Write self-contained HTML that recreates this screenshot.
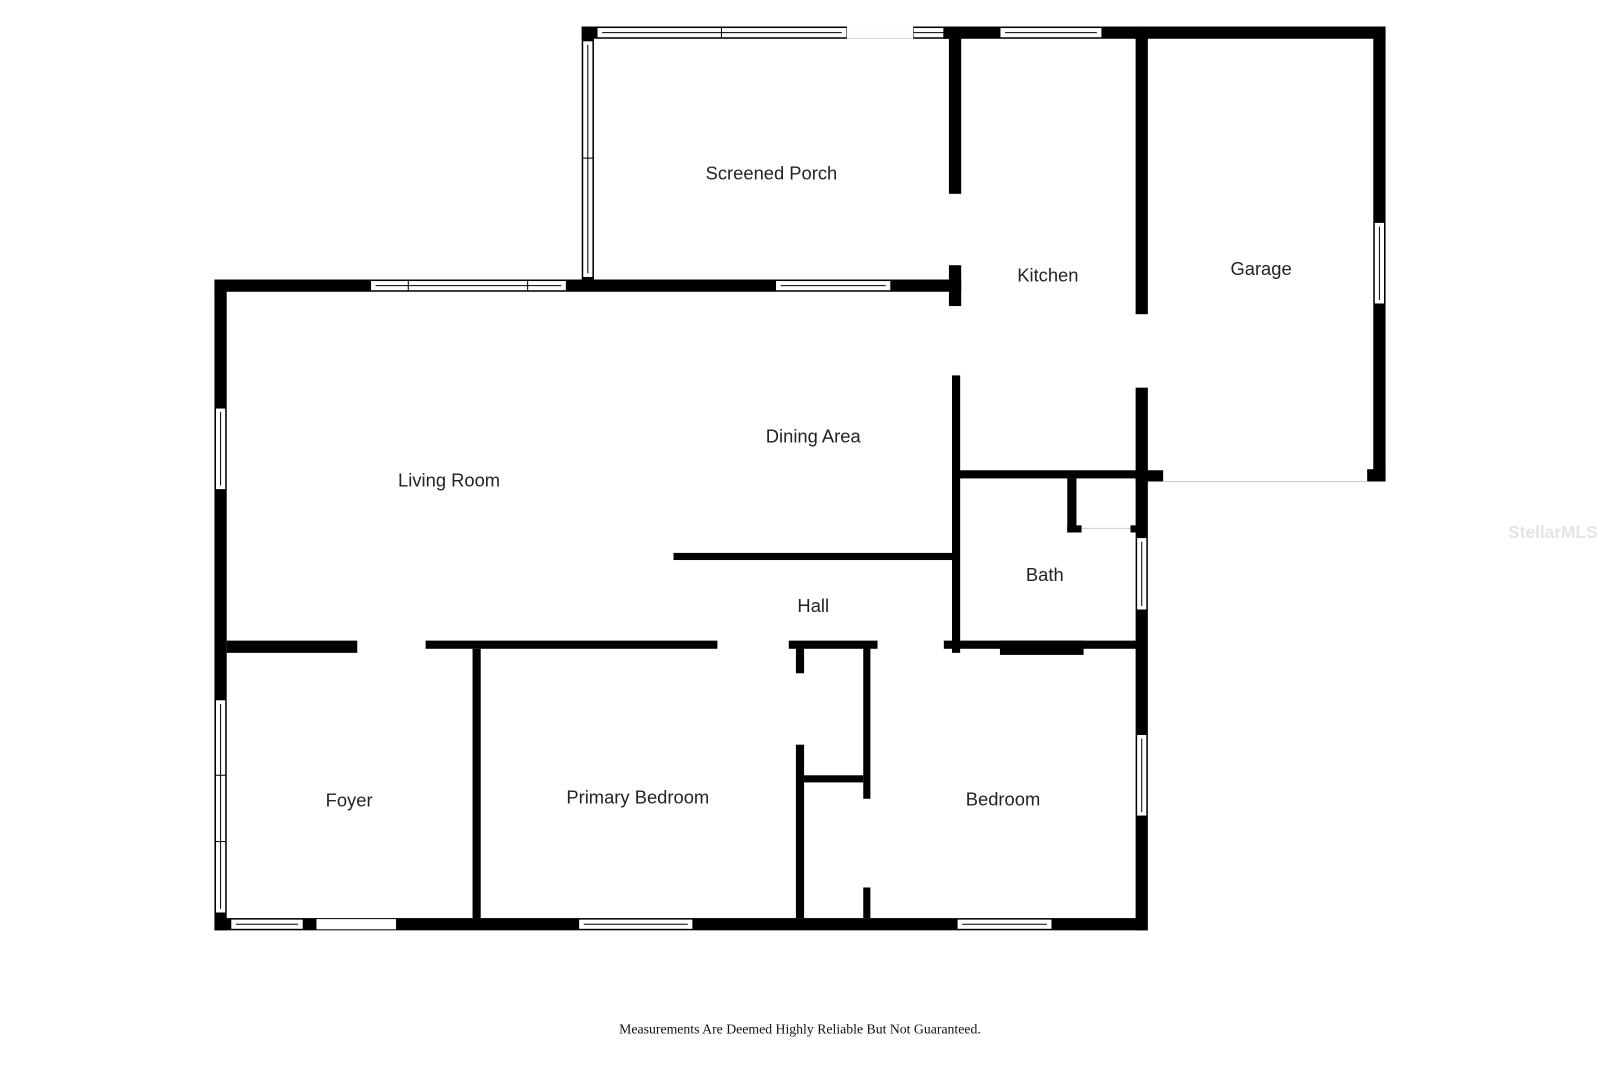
<!DOCTYPE html>
<html><head><meta charset="utf-8"><style>html,body{margin:0;padding:0;background:#fff}svg{display:block}</style></head>
<body>
<svg width="1600" height="1066" viewBox="0 0 1568 1045" xmlns="http://www.w3.org/2000/svg" font-family="Liberation Sans, sans-serif">
<rect width="1568" height="1045" fill="#fff"/>
<g fill="#000">
<rect x="570" y="26" width="370" height="12"/>
<rect x="570" y="26" width="12" height="252"/>
<rect x="925" y="26" width="433" height="12"/>
<rect x="1346" y="26" width="12" height="446"/>
<rect x="1340" y="460" width="18" height="12"/>
<rect x="1113" y="26" width="12" height="282"/>
<rect x="1113" y="380" width="12" height="532"/>
<rect x="1113" y="461" width="27" height="11"/>
<rect x="930" y="26" width="12" height="164"/>
<rect x="930" y="260" width="12" height="40"/>
<rect x="933" y="368" width="8" height="272"/>
<rect x="210" y="274" width="732" height="12"/>
<rect x="210" y="274" width="12" height="638"/>
<rect x="210" y="900" width="914" height="12"/>
<rect x="940" y="461" width="175" height="8"/>
<rect x="1046" y="469" width="9" height="53"/>
<rect x="1046" y="515" width="14" height="7"/>
<rect x="1108" y="515" width="7" height="7"/>
<rect x="660" y="542" width="275" height="7"/>
<rect x="925" y="628" width="190" height="8"/>
<rect x="980" y="628" width="82" height="14"/>
<rect x="222" y="628" width="128" height="12"/>
<rect x="417" y="628" width="286" height="8"/>
<rect x="773" y="628" width="87" height="8"/>
<rect x="463" y="636" width="8" height="264"/>
<rect x="780" y="632" width="8" height="28"/>
<rect x="780" y="730" width="8" height="170"/>
<rect x="846" y="632" width="7" height="151"/>
<rect x="846" y="870" width="7" height="30"/>
<rect x="787" y="760" width="59" height="7"/>
</g>
<g fill="#fff" stroke="#000" stroke-width="1">
<rect x="585" y="27" width="245" height="10"/><line x1="707" y1="27" x2="707" y2="37"/><line x1="590" y1="32" x2="825" y2="32"/>
<rect x="895" y="27" width="30" height="10"/><line x1="895" y1="32" x2="925" y2="32"/>
<rect x="571" y="40" width="10" height="232"/><line x1="571" y1="155" x2="581" y2="155"/><line x1="576" y1="44" x2="576" y2="268"/>
<rect x="980" y="27" width="100" height="10"/><line x1="985" y1="32" x2="1075" y2="32"/>
<rect x="1347" y="218" width="10" height="80"/><line x1="1352" y1="222" x2="1352" y2="294"/>
<rect x="363" y="275" width="192" height="10"/><line x1="400" y1="275" x2="400" y2="285"/><line x1="517" y1="275" x2="517" y2="285"/><line x1="368" y1="280" x2="550" y2="280"/>
<rect x="760" y="275" width="113" height="10"/><line x1="765" y1="280" x2="868" y2="280"/>
<rect x="211" y="400" width="10" height="80"/><line x1="216" y1="404" x2="216" y2="476"/>
<rect x="211" y="686" width="10" height="209"/><line x1="211" y1="760" x2="221" y2="760"/><line x1="211" y1="825" x2="221" y2="825"/><line x1="216" y1="690" x2="216" y2="891"/>
<rect x="226" y="901" width="71" height="10"/><line x1="231" y1="906" x2="292" y2="906"/>
<rect x="567" y="901" width="112" height="10"/><line x1="572" y1="906" x2="674" y2="906"/>
<rect x="938" y="901" width="93" height="10"/><line x1="943" y1="906" x2="1026" y2="906"/>
<rect x="1114" y="527" width="10" height="71"/><line x1="1119" y1="531" x2="1119" y2="594"/>
<rect x="1114" y="720" width="10" height="80"/><line x1="1119" y1="724" x2="1119" y2="796"/>
</g>
<g fill="#fff"><rect x="310" y="901" width="78" height="10"/><rect x="830" y="26" width="65" height="12"/></g>
<g stroke="#ccc" stroke-width="1"><line x1="1140" y1="472" x2="1340" y2="472"/><line x1="1060" y1="518" x2="1108" y2="518"/></g>
<g font-size="18" fill="#222" text-anchor="middle" dominant-baseline="middle">
<text x="756" y="171">Screened Porch</text>
<text x="1027" y="271">Kitchen</text>
<text x="1236" y="265">Garage</text>
<text x="797" y="429">Dining Area</text>
<text x="440" y="472">Living Room</text>
<text x="1024" y="565">Bath</text>
<text x="797" y="595">Hall</text>
<text x="342" y="786">Foyer</text>
<text x="625" y="783">Primary Bedroom</text>
<text x="983" y="785">Bedroom</text>
</g>
<text x="1522" y="523" font-size="17" fill="#e4e4e4" text-anchor="middle" dominant-baseline="middle" font-weight="bold">StellarMLS</text>
<text x="784" y="1010" font-size="13.5" font-family="Liberation Serif, serif" fill="#111" text-anchor="middle" dominant-baseline="middle">Measurements Are Deemed Highly Reliable But Not Guaranteed.</text>
</svg>
</body></html>
